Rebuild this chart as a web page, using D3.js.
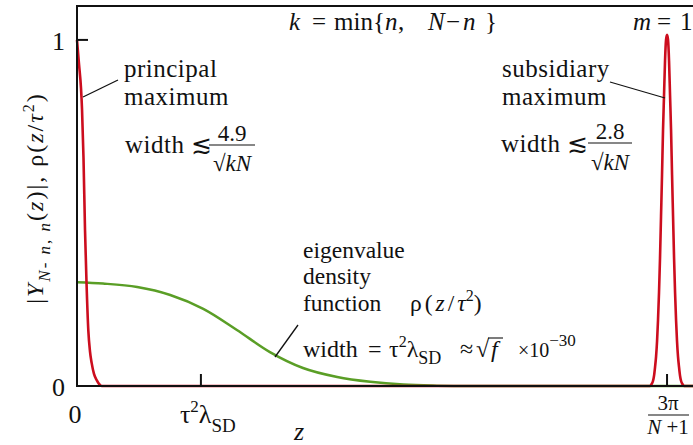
<!DOCTYPE html>
<html><head><meta charset="utf-8">
<script src="https://cdn.jsdelivr.net/npm/d3@7"></script>
<style>
html,body{margin:0;padding:0;background:#fff;}
</style></head>
<body><svg id="c" width="693" height="445"></svg>
<script>
// ---- data (z in units of 3π/(N+1); values of |Y| and ρ) ----
const principalZ   = [0, 0.0034, 0.0068, 0.0085, 0.011, 0.0136, 0.0161, 0.0192, 0.022, 0.0249, 0.0288, 0.0334, 0.0373, 0.0419];
const principalVal = [1.0, 0.93, 0.86, 0.80, 0.66, 0.45, 0.30, 0.16, 0.10, 0.066, 0.035, 0.017, 0.006, 0];
const subsidiaryZ   = [0.9712, 0.9737, 0.9763, 0.978, 0.9797, 0.9814, 0.9831, 0.9847, 0.9864, 0.9881, 0.9898, 0.9915, 0.9932, 0.9949, 0.9966, 0.9983, 1.0,
                       1.0017, 1.0034, 1.0051, 1.0068, 1.0085, 1.0102, 1.0119, 1.0136, 1.0153, 1.0169, 1.0186, 1.0203, 1.022, 1.0237, 1.0263, 1.0288];
const subsidiaryVal = [0, 0.005, 0.015, 0.03, 0.055, 0.085, 0.13, 0.19, 0.27, 0.37, 0.49, 0.61, 0.74, 0.84, 0.94, 1.0, 1.015,
                       1.0, 0.94, 0.84, 0.74, 0.61, 0.49, 0.37, 0.27, 0.19, 0.13, 0.085, 0.055, 0.03, 0.015, 0.005, 0];
const densityZ   = [0, 0.044, 0.102, 0.158, 0.214, 0.271, 0.327, 0.383, 0.441, 0.497, 0.553, 0.610, 0.666, 1.044];
const densityVal = [0.300, 0.296, 0.286, 0.263, 0.223, 0.162, 0.098, 0.052, 0.026, 0.012, 0.004, 0.001, 0, 0];
const zMax = 1.044, yMax = 1.098;
const xTickVals = [0, 0.21, 1];
const yTickVals = [0, 1];

const FONT = '"Liberation Serif"';
const svg = d3.select("#c");
const x = d3.scaleLinear().domain([0, zMax]).range([77, 693]);
const y = d3.scaleLinear().domain([0, yMax]).range([386, 6]);

const red = "#cc0d1e", green = "#5a9e26", ink = "#111";

const line = d3.line().x(d => x(d[0])).y(d => y(d[1])).curve(d3.curveMonotoneX);
const redPts = principalZ.map((z,i)=>[z, principalVal[i]])
  .concat(subsidiaryZ.map((z,i)=>[z, subsidiaryVal[i]]))
  .concat([[zMax, 0]]);
svg.append("path").attr("d", line(densityZ.map((z,i)=>[z, densityVal[i]])))
  .attr("fill","none").attr("stroke",green).attr("stroke-width",2.5);
svg.append("path").attr("d", line(redPts))
  .attr("fill","none").attr("stroke",red).attr("stroke-width",2.6).attr("stroke-linejoin","round");

const g = svg.append("g").attr("stroke",ink).attr("stroke-width",2).attr("fill","none");
g.append("path").attr("d", `M${x(zMax)},${y(yMax)}H${x(0)}V${y(0)}H${x(zMax)}`);
g.append("line").attr("x1",x(0)).attr("x2",x(0)+11).attr("y1",y(1)).attr("y2",y(1));
[xTickVals[1], xTickVals[2]].forEach(v=>{
  g.append("line").attr("x1",x(v)).attr("x2",x(v)).attr("y1",y(0)).attr("y2",y(0)-12);
});

const T = (sel, xx, yy, size, anchor) => sel.append("text").attr("x",xx).attr("y",yy)
  .attr("font-size",size).attr("text-anchor",anchor||"start").attr("fill",ink)
  .style("font-family", FONT);
const seg = (t, s, o={}) => {
  const ts = t.append("tspan").text(s);
  if (o.x != null) ts.attr("x", o.x);
  if (o.y != null) ts.attr("y", o.y);
  if (o.dy != null) ts.attr("dy", o.dy);
  if (o.it) ts.attr("font-style","italic");
  if (o.fs) ts.attr("font-size", o.fs);
  if (o.ls != null) ts.attr("letter-spacing", o.ls);
  return ts;
};
const rule = (x1,y1,x2,y2,w) => svg.append("line").attr("x1",x1).attr("y1",y1).attr("x2",x2).attr("y2",y2)
  .attr("stroke",ink).attr("stroke-width",w||1.2);

// tick labels
T(svg, 65, 50, 26, "end").text(yTickVals[1]);
T(svg, 65, 396, 26, "end").text(yTickVals[0]);
T(svg, x(xTickVals[0]) - 2, 423, 26, "middle").text(xTickVals[0]);
{
  const x0 = x(xTickVals[1]) - 21;
  const t = T(svg, x0, 423, 26);
  seg(t, "τ"); seg(t, "2", {dy:-11, fs:17}); seg(t, "λ", {dy:11});
  seg(t, "SD", {dy:9, fs:19});
}
{
  const cx = x(xTickVals[2]);
  T(svg, cx+1, 410, 21, "middle").text("3π");
  rule(cx-19, 415, cx+22, 415);
  const t2 = T(svg, cx+1, 434, 21, "middle"); seg(t2, "N", {it:true}); seg(t2, " +1");
}
// axis titles
{ const t = T(svg, 299, 440, 26, "middle"); seg(t, "z", {it:true}); }
{
  const t = svg.append("text").attr("transform","translate(43,198) rotate(-90)")
    .attr("font-size",24).attr("text-anchor","middle").attr("fill",ink).attr("letter-spacing",2)
    .style("font-family", FONT);
  seg(t, "|"); seg(t, "Y", {it:true});
  seg(t, "N", {it:true, dy:7, fs:17}); seg(t, "-", {fs:17}); seg(t, " n", {it:true, fs:17}); seg(t, ", ", {fs:17});
  seg(t, "n", {it:true, fs:17});
  seg(t, "(", {dy:-7}); seg(t, "z", {it:true}); seg(t, ")|,  ρ("); seg(t, "z", {it:true}); seg(t, "/");
  seg(t, "τ", {it:true}); seg(t, "2", {dy:-9, fs:16}); seg(t, ")", {dy:9});
}
// top labels
{
  const t = T(svg, 289, 30, 25);
  seg(t, "k", {x:289, it:true}); seg(t, "=", {x:312}); seg(t, "min{", {x:334}); seg(t, "n", {x:385, it:true});
  seg(t, ",", {x:398}); seg(t, "N", {x:428, it:true}); seg(t, "−", {x:446}); seg(t, "n", {x:463, it:true});
  seg(t, "}", {x:485});
}
{ const t = T(svg, 633, 30, 25); seg(t, "m", {x:633, it:true}); seg(t, "=", {x:657}); seg(t, "1", {x:680}); }

// annotations
const frac = (cx, num, yNum, yBar, yDen, half) => {
  T(svg, cx, yNum, 23, "middle").text(num);
  rule(cx-half, yBar, cx+half, yBar);
  const t = T(svg, cx, yDen, 23, "middle"); seg(t, "√"); seg(t, "kN", {it:true});
};
const note = (xx, yy, s) => T(svg, xx, yy, 25).attr("letter-spacing", 0.5).text(s);
note(124, 77, "principal");
note(124, 105, "maximum");
note(125, 153, "width ≲");
frac(232, "4.9", 141, 145, 171, 23);
rule(83, 97, 118, 80, 1.3);

note(502, 77, "subsidiary");
note(502, 105, "maximum");
note(501, 152, "width ≲");
frac(610, "2.8", 139, 143, 170, 22);
rule(610, 82, 665, 98, 1.3);

T(svg, 303, 258, 23.5).text("eigenvalue");
T(svg, 303, 284, 23.5).text("density");
{ const t = T(svg, 303, 311, 23.5); seg(t, "function");
  seg(t, "ρ(", {x:410, ls:3}); seg(t, "z", {it:true, ls:3}); seg(t, "/", {ls:3});
  seg(t, "τ", {it:true}); seg(t, "2", {dy:-10, fs:16}); seg(t, ")", {dy:10}); }
{ const t = T(svg, 303, 357, 24);
  seg(t, "width"); seg(t, "=", {x:368}); seg(t, "τ", {x:389}); seg(t, "2", {dy:-10, fs:16});
  seg(t, "λ", {dy:10}); seg(t, "SD", {dy:7, fs:18});
  seg(t, "≈", {x:460, dy:-7}); seg(t, "√", {x:476}); seg(t, "f", {x:491, it:true});
  seg(t, "×10", {x:518, fs:20}); seg(t, "−30", {dy:-11, fs:17}); }
rule(488, 338, 503, 338, 1.1);
rule(275, 357, 298, 325, 1.3);
</script></body></html>
